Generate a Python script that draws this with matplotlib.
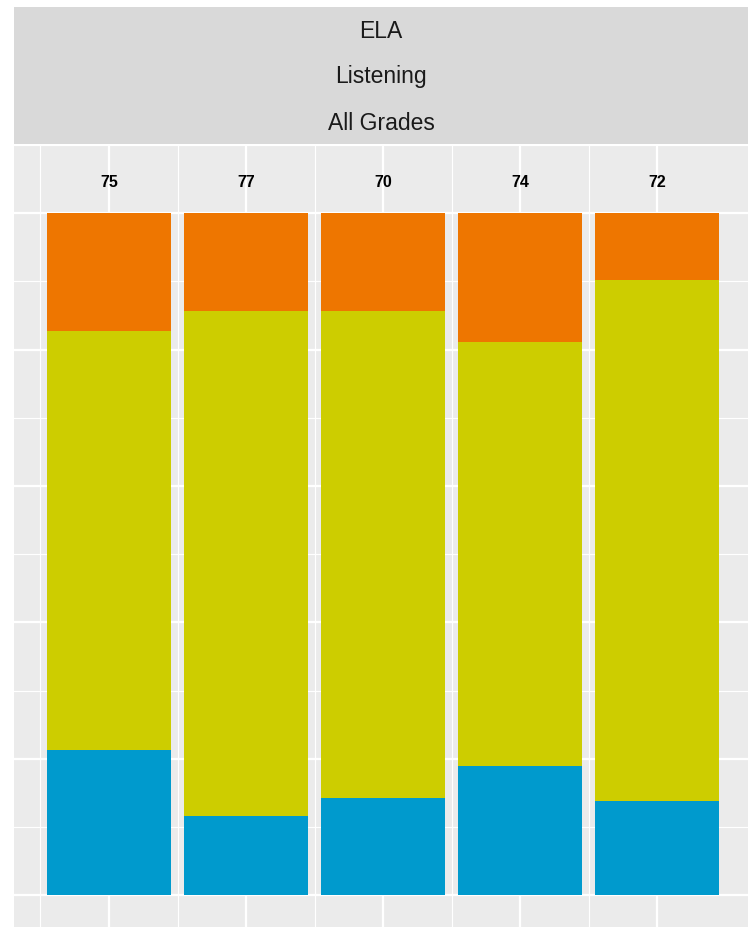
import numpy as np
import matplotlib.pyplot as plt

plt.rcParams['font.family'] = ['Liberation Sans', 'DejaVu Sans']

# counts per group, stacked bottom -> top
totals = [75, 77, 70, 74, 72]
below = [16, 9, 10, 14, 10]     # blue
meets = [46, 57, 50, 46, 55]    # yellow
above = [13, 11, 10, 14, 7]     # orange
strip_lines = ["ELA", "Listening", "All Grades"]

colors = ['#009ACD', '#CDCD00', '#EE7600']

W, H = 748, 928
fig = plt.figure(figsize=(W / 100, H / 100), dpi=100)

# panel
ax = fig.add_axes([14 / W, 0, (W - 14) / W, (H - 146) / H])
ax.set_facecolor('#EBEBEB')

x = np.arange(1, len(totals) + 1)
n = np.array(totals, dtype=float)
bottom = np.zeros(len(totals))
for vals, c in zip([below, meets, above], colors):
    frac = np.array(vals) / n
    ax.bar(x, frac, width=0.9, bottom=bottom, color=c, linewidth=0, zorder=3)
    bottom += frac

for xi, t in zip(x, totals):
    ax.text(xi, 1.047, str(t), ha='center', va='center', fontsize=11.5,
            fontweight='bold', color='black', zorder=4)

ax.set_xlim(0.3066, 5.664)
ax.set_ylim(-0.0465, 1.1)

# grid, ggplot-like
for xv in x:
    ax.axvline(xv, color='white', lw=1.6, zorder=1)
for xv in x - 0.5:
    ax.axvline(xv, color='white', lw=0.8, zorder=1)
for i, yv in enumerate(np.arange(0, 1.11, 0.1)):
    ax.axhline(yv, color='white', lw=1.6 if i % 2 == 0 else 0.8, zorder=1)

ax.set_xticks([])
ax.set_yticks([])
for s in ax.spines.values():
    s.set_visible(False)

# facet strip
sax = fig.add_axes([14 / W, (H - 145) / H, (W - 14) / W, 137 / H])
sax.set_facecolor('#D9D9D9')
sax.set_xticks([])
sax.set_yticks([])
for s in sax.spines.values():
    s.set_visible(False)
sax.set_xlim(0, 1)
sax.set_ylim(0, 137)
for label, ypix in zip(strip_lines, [31, 77, 123]):
    sax.text(0.5, 145 - ypix, label, ha='center', va='center',
             fontsize=16.5, color='#1A1A1A')

fig.savefig('out.png', dpi=100)
